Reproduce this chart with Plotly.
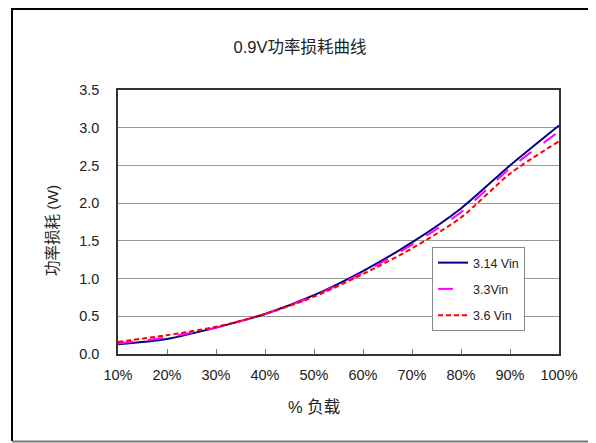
import plotly.graph_objects as go

load_labels = ["10%", "20%", "30%", "40%", "50%", "60%", "70%", "80%", "90%", "100%"]
vin_314 = [0.13, 0.20, 0.35, 0.53, 0.78, 1.10, 1.48, 1.93, 2.50, 3.03]
vin_33 = [0.14, 0.22, 0.35, 0.53, 0.77, 1.08, 1.45, 1.88, 2.46, 2.95]
vin_36 = [0.16, 0.25, 0.36, 0.53, 0.76, 1.06, 1.40, 1.81, 2.39, 2.82]
series_names = ["3.14 Vin", "3.3Vin", "3.6 Vin"]
y_ticks = [0.0, 0.5, 1.0, 1.5, 2.0, 2.5, 3.0, 3.5]

xpos = list(range(len(load_labels)))
font_latin = "Liberation Sans, Arial, Noto Sans CJK SC"
font_cjk = "Liberation Sans, Noto Sans CJK SC"

fig = go.Figure()
styles = [
    dict(color="#000080", width=2, dash="solid", shape="spline", smoothing=0.8),
    dict(color="#FF00FF", width=2, dash="longdash", shape="spline", smoothing=0.8),
    dict(color="#FF0000", width=2, dash="5px,3px", shape="spline", smoothing=0.8),
]
for name, vals, st, g in zip(series_names, [vin_314, vin_33, vin_36], styles, ["a", "b", "c"]):
    fig.add_trace(go.Scatter(x=xpos, y=vals, mode="lines", name=name, line=st,
                             legendgroup=g))

# page body margin offset (8px) compensation
OFF = 8
W, H = 596 - OFF, 443 - OFF
L, R, T, B = 118 - OFF, 37, 90 - OFF, 89
pw, ph = W - L - R, H - T - B

def px_x(x):
    return (x - OFF - L) / pw

def px_y(y):
    return (H - B - (y - OFF)) / ph

fig.update_layout(
    width=W, height=H,
    margin=dict(l=L, r=R, t=T, b=B, autoexpand=False),
    paper_bgcolor="white", plot_bgcolor="white",
    font=dict(family=font_latin, size=14.5, color="#222222"),
    title=dict(text="0.9V功率损耗曲线", x=px_x(300), xref="paper", xanchor="center",
               y=(H - (47 - OFF)) / H, yref="container", yanchor="middle",
               font=dict(family=font_cjk, size=16.5, color="#222222")),
    showlegend=True,
    legend=dict(x=px_x(432), y=px_y(247), xanchor="left", yanchor="top",
                bgcolor="white", bordercolor="#888888", borderwidth=1,
                font=dict(size=12.5, family=font_latin, color="#222222"),
                tracegroupgap=7, itemwidth=30),
    xaxis=dict(range=[0, 9], tickmode="array", tickvals=xpos, ticktext=load_labels,
               showgrid=False, zeroline=False, showline=True, linecolor="#333333",
               linewidth=1.5, mirror=True, ticks="inside", ticklen=5,
               tickcolor="#777777", ticklabelstandoff=7),
    yaxis=dict(range=[0, 3.5], tickmode="array", tickvals=y_ticks,
               ticktext=[f"{v:.1f}" for v in y_ticks],
               showgrid=True, gridcolor="#999999", gridwidth=1, zeroline=False,
               showline=True, linecolor="#333333", linewidth=1.5, mirror=True,
               ticks="", ticklabelstandoff=14),
    annotations=[
        dict(text="% 负载", xref="paper", yref="paper", x=px_x(314), y=px_y(407),
             xanchor="center", yanchor="middle", showarrow=False,
             font=dict(family=font_cjk, size=16.5, color="#222222")),
        dict(text="功率损耗 (W)", xref="paper", yref="paper", x=px_x(52), y=px_y(231),
             xanchor="center", yanchor="middle", showarrow=False, textangle=-90,
             font=dict(family=font_cjk, size=15.5, color="#222222")),
    ],
    shapes=[
        dict(type="line", xref="paper", yref="paper", x0=px_x(12), x1=px_x(12),
             y0=px_y(9), y1=px_y(441), line=dict(color="black", width=2)),
        dict(type="line", xref="paper", yref="paper", x0=px_x(11), x1=px_x(595),
             y0=px_y(9), y1=px_y(9), line=dict(color="black", width=2)),
        dict(type="line", xref="paper", yref="paper", x0=px_x(12), x1=px_x(595),
             y0=px_y(441.5), y1=px_y(441.5), line=dict(color="#777777", width=2)),
    ],
)

fig.write_html("out.html")
